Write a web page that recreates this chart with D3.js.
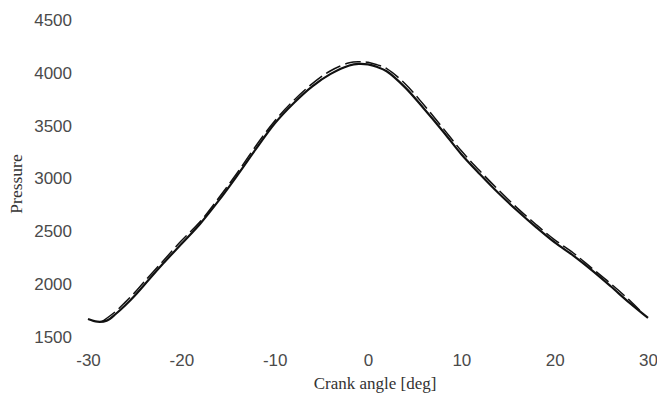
<!DOCTYPE html>
<html><head><meta charset="utf-8">
<script src="https://cdn.jsdelivr.net/npm/d3@7"></script>
<style>body{margin:0;background:#fff}svg{display:block}</style>
</head><body><svg id="c" width="657" height="395"></svg>
<script>
const xTicks = [-30,-20,-10,0,10,20,30];
const yTicks = [1500,2000,2500,3000,3500,4000,4500];
const angleA = [-30,-29,-28,-27,-26,-25,-24,-22,-20,-18,-16,-14,-12,-10,-8,-6,-4,-2,-1,0,1,2,4,6,8,10,12,14,16,18,20,22,24,26,28,30];
const pressureA = [1670,1645,1655,1720,1800,1890,1990,2190,2380,2570,2790,3030,3280,3520,3710,3870,3990,4070,4085,4080,4055,4015,3860,3660,3450,3230,3040,2860,2695,2540,2395,2270,2130,1980,1825,1680];
const angleB = [-28.5,-27,-26,-25,-24,-22,-20,-18,-16,-14,-12,-10,-8,-6,-4,-2,-1,0,1,2,4,6,8,10,12,14,16,18,20,22,24,26,28,29.2];
const pressureB = [1645,1745,1830,1920,2020,2215,2410,2590,2815,3055,3310,3545,3735,3895,4020,4095,4105,4100,4075,4040,3895,3695,3480,3262,3070,2890,2720,2565,2420,2295,2150,2005,1850,1745];

const svg = d3.select("#c");
const x = d3.scaleLinear().domain([-30,30]).range([88,648]);
const y = d3.scaleLinear().domain([1500,4500]).range([337,20]);
const fmt = d3.format("d");

const xAxis = svg.append("g").attr("transform","translate(0,360)")
  .call(d3.axisBottom(x).tickValues(xTicks).tickSize(0).tickPadding(0).tickFormat(d => String(d)));
xAxis.select(".domain").remove();
xAxis.selectAll("text").attr("dy","0.35em").attr("fill","#4a4a4a")
  .style("font-family","'Liberation Sans',Arial,sans-serif").style("font-size","17px");

const yAxis = svg.append("g").attr("transform","translate(72,0)")
  .call(d3.axisLeft(y).tickValues(yTicks).tickSize(0).tickPadding(0).tickFormat(fmt));
yAxis.select(".domain").remove();
yAxis.selectAll("text").attr("fill","#4a4a4a")
  .style("font-family","'Liberation Sans',Arial,sans-serif").style("font-size","17px");

svg.append("text").attr("x",375).attr("y",389).attr("text-anchor","middle")
  .style("font-family","'Liberation Serif','Times New Roman',serif").style("font-size","17px")
  .attr("fill","#333").text("Crank angle [deg]");
svg.append("text").attr("transform","translate(22,184) rotate(-90)").attr("text-anchor","middle")
  .style("font-family","'Liberation Serif','Times New Roman',serif").style("font-size","17.5px")
  .attr("fill","#333").text("Pressure");

const line = d3.line().x(d=>x(d[0])).y(d=>y(d[1])).curve(d3.curveCatmullRom);
svg.append("path").datum(d3.zip(angleA,pressureA)).attr("d",line)
  .attr("fill","none").attr("stroke","#111").attr("stroke-width",2.2);
svg.append("path").datum(d3.zip(angleB,pressureB)).attr("d",line)
  .attr("fill","none").attr("stroke","#111").attr("stroke-width",1.5).attr("stroke-dasharray","16,5");
</script></body></html>
